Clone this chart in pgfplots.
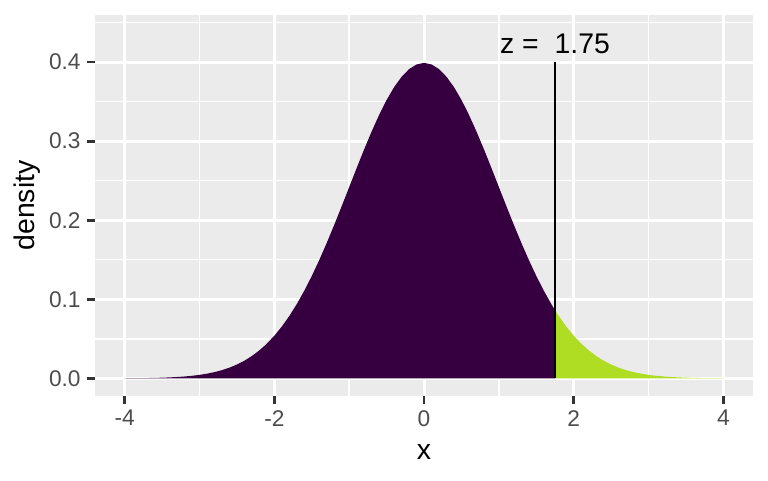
\documentclass[border=0pt]{standalone}
\usepackage{pgfplots}
\pgfplotsset{compat=1.18}
\usepackage{fontspec}
\setmainfont{Liberation Sans}
\definecolor{bgc}{HTML}{EBEBEB}
\definecolor{tickc}{HTML}{333333}
\definecolor{ticklab}{HTML}{4D4D4D}
\definecolor{darkfill}{RGB}{54,0,64}
\definecolor{greenfill}{RGB}{174,221,36}
\begin{document}
\begin{tikzpicture}[x=1pt,y=1pt]
\path[use as bounding box] (0,0) rectangle (768,480);
\begin{axis}[
  at={(94.8pt,84pt)}, anchor=south west,
  scale only axis, width=658.5pt, height=381pt,
  xmin=-4.4, xmax=4.4, ymin=-0.0223, ymax=0.4595,
  axis background/.style={fill=bgc},
  axis line style={draw=none},
  xtick={-4,-2,0,2,4}, xticklabels={-4,-2,0,2,4},
  ytick={0,0.1,0.2,0.3,0.4}, yticklabels={0.0,0.1,0.2,0.3,0.4},
  minor xtick={-3,-1,1,3},
  minor ytick={0.05,0.15,0.25,0.35,0.45},
  grid=both,
  major grid style={white, line width=3pt},
  minor grid style={white, line width=1.5pt},
  xtick pos=lower, ytick pos=lower,
  tick align=outside,
  major tick length=8pt, minor tick length=0pt,
  major tick style={tickc, line width=2.8pt},
  minor tick style={draw=none},
  ticklabel style={font=\fontsize{22.7}{26}\selectfont, text=ticklab},
  xticklabel style={anchor=north, inner sep=0pt, yshift=-6pt},
  yticklabel style={anchor=east, inner sep=0pt, xshift=-6pt},
  xlabel={x}, ylabel={density},
  label style={font=\fontsize{28.4}{32}\selectfont, text=black},
  xlabel style={at={(axis description cs:0.5,0)}, anchor=center, yshift=-56pt},
  ylabel style={at={(axis description cs:0,0.5)}, anchor=center, rotate=0, yshift=68pt},
]
\addplot[fill=darkfill, draw=none] table {
x y
-4.0 0
-4.0 0.000134
-3.9 0.000199
-3.8 0.000292
-3.7 0.000425
-3.6 0.000612
-3.5 0.000873
-3.4 0.001232
-3.3 0.001723
-3.2 0.002384
-3.1 0.003267
-3.0 0.004432
-2.9 0.005953
-2.8 0.007915
-2.7 0.010421
-2.6 0.013583
-2.5 0.017528
-2.4 0.022395
-2.3 0.028327
-2.2 0.035475
-2.1 0.043984
-2.0 0.053991
-1.9 0.065616
-1.8 0.078950
-1.7 0.094049
-1.6 0.110921
-1.5 0.129518
-1.4 0.149727
-1.3 0.171369
-1.2 0.194186
-1.1 0.217852
-1.0 0.241971
-0.9 0.266085
-0.8 0.289692
-0.7 0.312254
-0.6 0.333225
-0.5 0.352065
-0.4 0.368270
-0.3 0.381388
-0.2 0.391043
-0.1 0.396953
0.0 0.398942
0.1 0.396953
0.2 0.391043
0.3 0.381388
0.4 0.368270
0.5 0.352065
0.6 0.333225
0.7 0.312254
0.8 0.289692
0.9 0.266085
1.0 0.241971
1.1 0.217852
1.2 0.194186
1.3 0.171369
1.4 0.149727
1.5 0.129518
1.6 0.110921
1.7 0.094049
1.75 0.086277
1.75 0
};
\addplot[fill=greenfill, draw=none] table {
x y
1.75 0
1.75 0.086277
1.8 0.078950
1.9 0.065616
2.0 0.053991
2.1 0.043984
2.2 0.035475
2.3 0.028327
2.4 0.022395
2.5 0.017528
2.6 0.013583
2.7 0.010421
2.8 0.007915
2.9 0.005953
3.0 0.004432
3.1 0.003267
3.2 0.002384
3.3 0.001723
3.4 0.001232
3.5 0.000873
3.6 0.000612
3.7 0.000425
3.8 0.000292
3.9 0.000199
4.0 0.000134
4.0 0
};
\addplot[black, line width=2.7pt] coordinates {(1.75,0) (1.75,0.4)};
\node[font=\fontsize{28.4}{32}\selectfont, anchor=center, inner sep=0pt] at (axis cs:1.75,0.423) {z = ~1.75};
\end{axis}
\end{tikzpicture}
\end{document}
